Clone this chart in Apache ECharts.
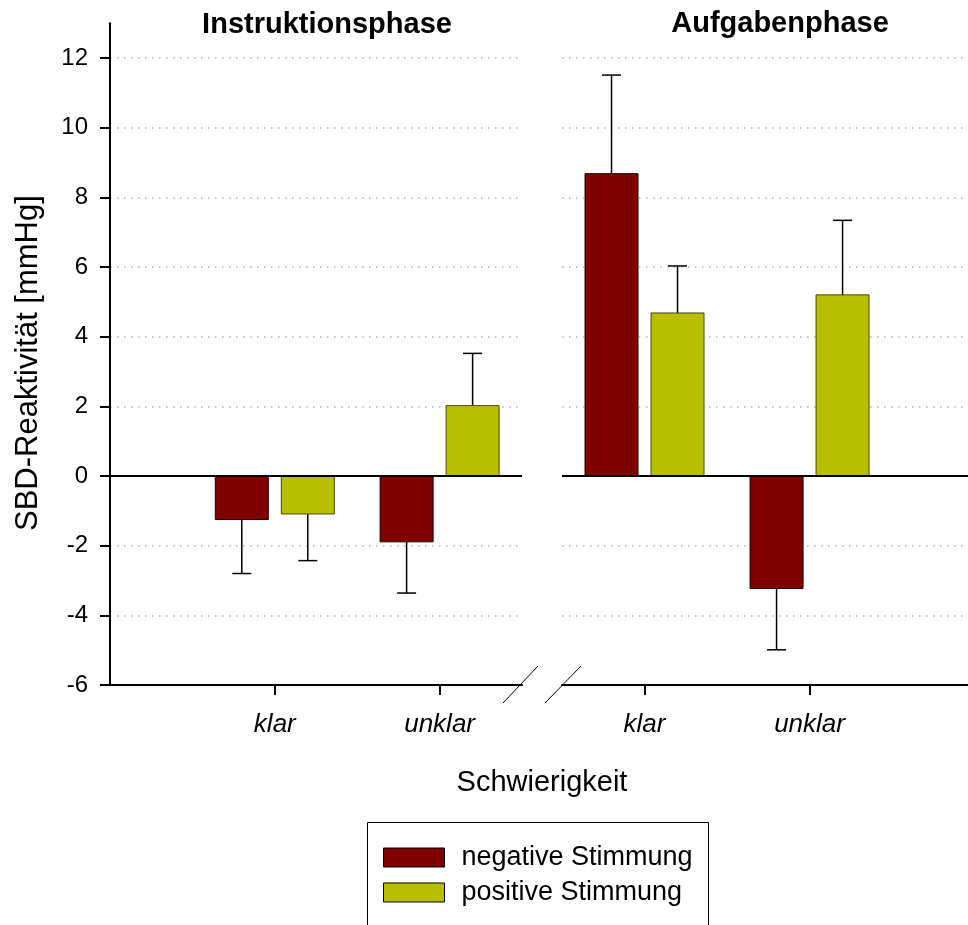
<!DOCTYPE html>
<html>
<head>
<meta charset="utf-8">
<script src="https://cdn.jsdelivr.net/npm/echarts@6/dist/echarts.min.js"></script>
<style>
html,body{margin:0;padding:0;background:#fff;}
#chart{width:968px;height:925px;}
</style>
</head>
<body>
<div id="chart"></div>
<script>
// ---- data ----
const categories = ['klar', 'unklar'];
const phases = ['Instruktionsphase', 'Aufgabenphase'];
const moods = ['negative Stimmung', 'positive Stimmung'];
const instrNegative = [-1.25, -1.89];
const instrNegativeErr = [1.55, 1.47];
const instrPositive = [-1.09, 2.02];
const instrPositiveErr = [1.34, 1.50];
const taskNegative = [8.68, -3.23];
const taskNegativeErr = [2.83, 1.76];
const taskPositive = [4.68, 5.20];
const taskPositiveErr = [1.35, 2.14];
const yTicks = [-6, -4, -2, 0, 2, 4, 6, 8, 10, 12];
const xAxisTitle = 'Schwierigkeit';
const yAxisTitle = 'SBD-Reaktivität [mmHg]';

// ---- styles ----
const FONT = "'Liberation Sans', Arial, Helvetica, sans-serif";
const COLORS = ['#800000', '#b8bf00'];
const BORDERS = ['#1a0000', '#4a4a00'];
const BAR_W = 53, BAR_GAP = 13, CAP_W = 19;

function toData(vals, errs) {
  return vals.map((v, i) => [i + 1, v, errs[i]]);
}

function makeRender(side) {
  return function (params, api) {
    const x = api.value(0), v = api.value(1), e = api.value(2);
    const base = api.coord([x, 0]);
    const top = api.coord([x, v]);
    const end = api.coord([x, v + (v >= 0 ? e : -e)]);
    const cx = base[0] + side * (BAR_W + BAR_GAP) / 2;
    const y0 = Math.min(base[1], top[1]);
    const h = Math.abs(top[1] - base[1]);
    return {
      type: 'group',
      children: [
        { type: 'line', shape: { x1: cx, y1: top[1], x2: cx, y2: end[1] },
          style: { stroke: '#000', lineWidth: 1.5 } },
        { type: 'line', shape: { x1: cx - CAP_W / 2, y1: end[1], x2: cx + CAP_W / 2, y2: end[1] },
          style: { stroke: '#000', lineWidth: 1.5 } },
        { type: 'rect', shape: { x: cx - BAR_W / 2, y: y0, width: BAR_W, height: h },
          style: { fill: api.visual('color'), stroke: BORDERS[side < 0 ? 0 : 1], lineWidth: 1 } }
      ]
    };
  };
}

const zeroLine = {
  silent: true, symbol: ['none', 'none'], animation: false,
  label: { show: false },
  lineStyle: { color: '#000', width: 2, type: 'solid' },
  data: [{ yAxis: 0 }]
};

function series(name, idx, axisIdx, vals, errs, withZero) {
  const s = {
    type: 'custom', name: name,
    xAxisIndex: axisIdx, yAxisIndex: axisIdx,
    renderItem: makeRender(idx === 0 ? -1 : 1),
    itemStyle: { color: COLORS[idx] },
    encode: { x: 0, y: 1 },
    data: toData(vals, errs),
    z: 3
  };
  if (withZero) s.markLine = zeroLine;
  return s;
}

const yAxisCommon = {
  type: 'value', min: -6, max: 13,
  axisLine: { show: true, onZero: false, lineStyle: { color: '#000', width: 2 } },
  axisTick: { show: true, length: 10, customValues: yTicks, lineStyle: { color: '#000', width: 2 } },
  axisLabel: { show: true, customValues: yTicks, margin: 22, fontSize: 24, color: '#000', fontFamily: FONT },
  splitLine: { show: true, lineStyle: { color: '#b4b4b4', width: 1.5, type: [1.5, 5.5] } }
};

const xAxisCommon = {
  type: 'value', position: 'bottom',
  axisLine: { show: true, onZero: false, lineStyle: { color: '#000', width: 2 } },
  axisTick: { show: true, inside: false, length: 10, customValues: [1, 2], lineStyle: { color: '#000', width: 2 } },
  axisLabel: { show: true, customValues: [1, 2], margin: 27, fontSize: 26, fontStyle: 'italic', color: '#000', fontFamily: FONT,
    formatter: v => categories[Math.round(v) - 1] || '' },
  splitLine: { show: false }
};

const chart = echarts.init(document.getElementById('chart'), null, { renderer: 'canvas' });
chart.setOption({
  animation: false,
  backgroundColor: '#fff',
  textStyle: { fontFamily: FONT },
  title: [
    { text: phases[0], left: 327, top: 10, textAlign: 'center', padding: 0,
      textStyle: { fontSize: 29, fontWeight: 'bold', color: '#000', fontFamily: FONT } },
    { text: phases[1], left: 780, top: 9, textAlign: 'center', padding: 0,
      textStyle: { fontSize: 29, fontWeight: 'bold', color: '#000', fontFamily: FONT } },
    { text: xAxisTitle, left: 542, top: 768, textAlign: 'center', padding: 0,
      textStyle: { fontSize: 29, fontWeight: 'normal', color: '#000', fontFamily: FONT } }
  ],
  grid: [
    { left: 110, right: 446, top: 23.17, bottom: 240, containLabel: false },
    { left: 562, right: 0, top: 23.17, bottom: 240, containLabel: false }
  ],
  xAxis: [
    Object.assign({}, xAxisCommon, { gridIndex: 0, min: 0, max: 2.5 }),
    Object.assign({}, xAxisCommon, { gridIndex: 1, min: 0.5, max: 2.96 })
  ],
  yAxis: [
    Object.assign({}, yAxisCommon, { gridIndex: 0,
      name: yAxisTitle, nameLocation: 'middle', nameRotate: 90, nameGap: 66,
      nameTextStyle: { fontSize: 31, color: '#000', fontFamily: FONT, padding: [0, 18, 0, 0] } }),
    Object.assign({}, yAxisCommon, { gridIndex: 1,
      axisLine: { show: false, onZero: false },
      axisTick: { show: false, customValues: yTicks },
      axisLabel: { show: false, customValues: yTicks } })
  ],
  legend: {
    orient: 'vertical', left: 383, top: 844, height: 80,
    padding: 0,
    itemWidth: 61, itemHeight: 19, itemGap: 8,
    selectedMode: false,
    textStyle: { fontSize: 27, color: '#000', fontFamily: FONT, lineHeight: 27, padding: [0, 0, 0, 12] },
    data: [
      { name: moods[0], icon: 'rect', itemStyle: { color: COLORS[0], borderColor: '#000', borderWidth: 1 } },
      { name: moods[1], icon: 'rect', itemStyle: { color: COLORS[1], borderColor: '#000', borderWidth: 1 } }
    ]
  },
  graphic: [
    { type: 'rect', shape: { x: 367.5, y: 822.5, width: 341, height: 200 },
      style: { fill: 'none', stroke: '#000', lineWidth: 1 }, silent: true, z: 0 },
    { type: 'line', shape: { x1: 503, y1: 703, x2: 538, y2: 666 }, style: { stroke: '#000', lineWidth: 1 }, silent: true },
    { type: 'line', shape: { x1: 545, y1: 703, x2: 581, y2: 666 }, style: { stroke: '#000', lineWidth: 1 }, silent: true }
  ],
  series: [
    series(moods[0], 0, 0, instrNegative, instrNegativeErr, true),
    series(moods[1], 1, 0, instrPositive, instrPositiveErr, false),
    series(moods[0], 0, 1, taskNegative, taskNegativeErr, true),
    series(moods[1], 1, 1, taskPositive, taskPositiveErr, false)
  ]
});
</script>
</body>
</html>
